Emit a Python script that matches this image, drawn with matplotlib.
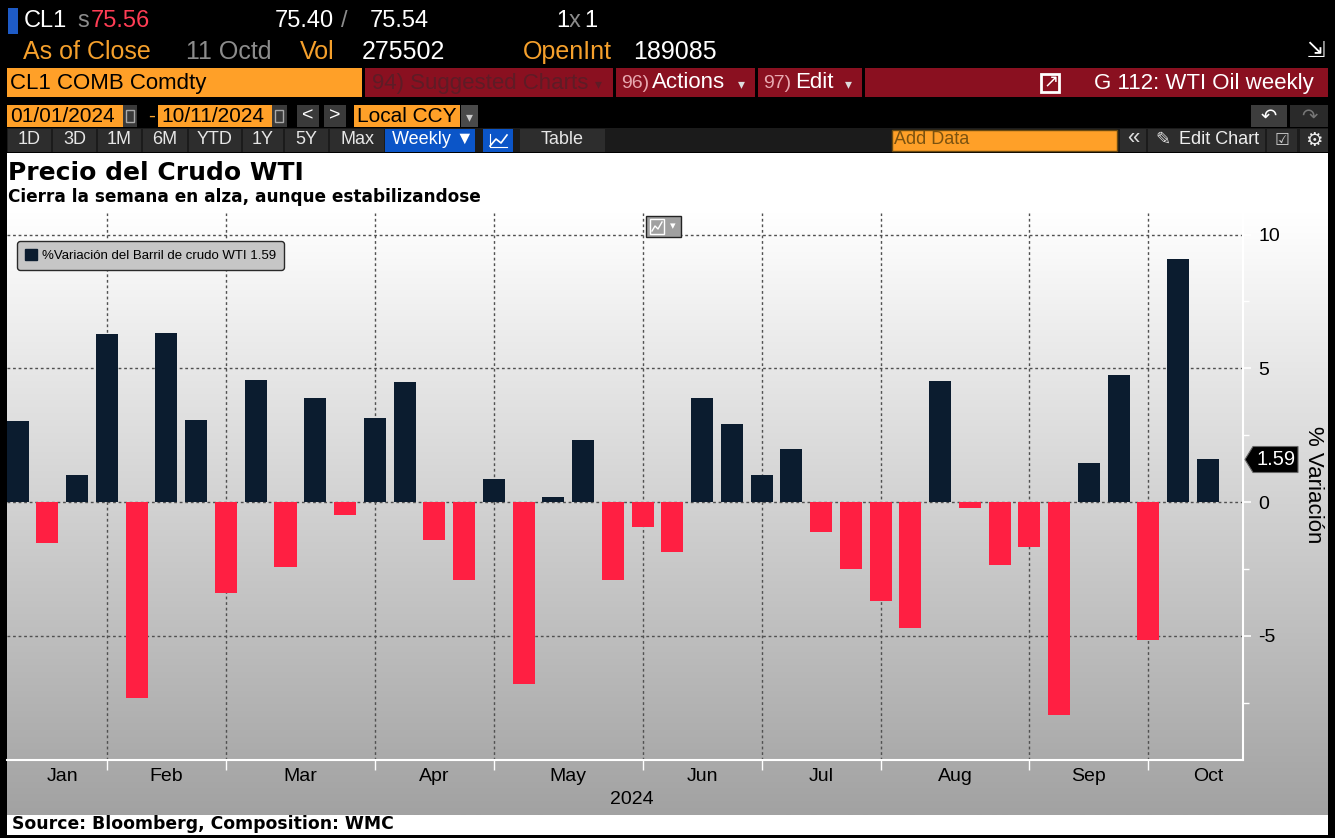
import numpy as np
import pandas as pd
import matplotlib
matplotlib.use("Agg")
import matplotlib.pyplot as plt
from matplotlib.patches import Rectangle, Polygon, Patch
from matplotlib.colors import LinearSegmentedColormap

plt.rcParams['font.family'] = ['Liberation Sans', 'DejaVu Sans']

# ---------------- data ----------------
week_dates = pd.date_range("2024-01-05", "2024-10-11", freq="W-FRI")
values = [3.03, -1.52, 1.01, 6.28, -7.32, 6.32, 3.07, -3.39, 4.56, -2.42,
          3.89, -0.47, 3.14, 4.49, -1.41, -2.91, 0.86, -6.80, 0.19, 2.32,
          -2.91, -0.92, -1.86, 3.89, 2.92, 1.01, 1.98, -1.11, -2.49, -3.69,
          -4.70, 4.53, -0.21, -2.34, -1.67, -7.96, 1.46, 4.75, -5.15, 9.09,
          1.59]
month_names = ["Jan", "Feb", "Mar", "Apr", "May", "Jun", "Jul", "Aug", "Sep", "Oct"]
year_label = "2024"
y_major = [-5, 0, 5, 10]
y_minor = [-7.5, -2.5, 2.5, 7.5]
series_name = "%Variación del Barril de crudo WTI"
title = "Precio del Crudo WTI"
subtitle = "Cierra la semana en alza, aunque estabilizandose"
source = "Source: Bloomberg, Composition: WMC"

# ---------------- colours ----------------
NAVY = "#0b1c2f"
RED_BAR = "#ff1f42"
ORANGE = "#ffa028"
ORANGE_TXT = "#f5a02c"
BBG_RED = "#8a1020"
GRAY_TXT = "#8c8c8c"

W, H = 1335, 838
fig = plt.figure(figsize=(W / 100, H / 100), dpi=100)
fig.patch.set_facecolor("black")

bg = fig.add_axes([0, 0, 1, 1], zorder=0)
bg.set_xlim(0, W); bg.set_ylim(H, 0); bg.axis("off")


def box(x0, y0, x1, y1, fc, ec="none", lw=0, ax=bg, z=1):
    ax.add_patch(Rectangle((x0, y0), x1 - x0, y1 - y0, facecolor=fc,
                           edgecolor=ec, linewidth=lw, zorder=z))


def txt(x, y, s, size, color, ha="left", va="center", weight="normal",
        family=None, ax=bg, z=3, **kw):
    if family is None:
        family = ['Liberation Sans', 'DejaVu Sans']
    ax.text(x, y, s, fontsize=size, color=color, ha=ha, va=va,
            fontweight=weight, family=family, zorder=z, **kw)


# ---------------- header rows ----------------
box(8, 8, 18, 34, "#1e5bc6")
txt(24, 21, "CL1", 17, "white")
txt(77, 21, "s", 17, GRAY_TXT)
txt(91, 21, "75.56", 17, "#ff3d55")
txt(275, 21, "75.40", 17, "white")
txt(341, 21, "/", 17, GRAY_TXT)
txt(370, 21, "75.54", 17, "white")
txt(556, 21, "1", 17, "white")
txt(569, 21, "x", 17, GRAY_TXT)
txt(584, 21, "1", 17, "white")

txt(23, 52, "As of Close", 18, ORANGE_TXT)
txt(186, 52, "11 Octd", 18, GRAY_TXT)
txt(300, 52, "Vol", 18, ORANGE_TXT)
txt(362, 52, "275502", 18, "white")
txt(523, 52, "OpenInt", 18, ORANGE_TXT)
txt(633, 52, "189085", 18, "white")
txt(1316, 51, "⇲", 16, "white", ha="center", family=["DejaVu Sans"])

# row 3
box(7, 68, 362, 97, ORANGE)
txt(10, 83, "CL1 COMB Comdty", 16, "black")
box(365, 68, 613, 97, BBG_RED)
txt(372, 83, "94) Suggested Charts", 16, "#5e1c26")
txt(598, 84, "▾", 10, "#5e1c26", ha="center")
box(616, 68, 755, 97, BBG_RED)
txt(621, 83, "96)", 14, "#e8a8b0")
txt(652, 83, "Actions", 16, "white")
txt(741, 84, "▾", 10, "#dddddd", ha="center")
box(758, 68, 862, 97, BBG_RED)
txt(763, 83, "97)", 14, "#e8a8b0")
txt(795, 83, "Edit", 16, "white")
txt(848, 84, "▾", 10, "#dddddd", ha="center")
box(865, 68, 1328, 97, BBG_RED)
box(1041, 74, 1059, 92, "none", ec="white", lw=2, z=2)
txt(1051, 82, "↗", 13, "white", ha="center", family=["DejaVu Sans"])
txt(1314, 83, "G 112: WTI Oil weekly", 16, "white", ha="right")

# row 4
box(7, 105, 123, 127, ORANGE)
txt(10, 116, "01/01/2024", 15, "black")
box(123, 105, 137, 127, "#3a3a3a")
box(126, 110, 134, 122, "none", ec="#aaaaaa", lw=1, z=2)
txt(148, 116, "-", 15, ORANGE_TXT)
box(158, 105, 272, 127, ORANGE)
txt(161, 116, "10/11/2024", 15, "black")
box(272, 105, 287, 127, "#3a3a3a")
box(275, 110, 283, 122, "none", ec="#aaaaaa", lw=1, z=2)
box(297, 105, 319, 127, "#3a3a3a")
txt(308, 116, "<", 14, "white", ha="center")
box(324, 105, 346, 127, "#3a3a3a")
txt(335, 116, ">", 14, "white", ha="center")
box(354, 105, 460, 127, ORANGE)
txt(357, 116, "Local CCY", 15, "black")
box(461, 105, 478, 127, "#4a4a4a")
txt(469.5, 117, "▾", 10, "#cccccc", ha="center")
box(1251, 105, 1287, 127, "#3d3d3d")
txt(1269, 116, "↶", 14, "white", ha="center", family=["DejaVu Sans"])
box(1290, 105, 1328, 127, "#2a2a2a")
txt(1309, 116, "↷", 14, "#777777", ha="center", family=["DejaVu Sans"])

# row 5
box(7, 128, 1328, 152, "#1b1b1b")
for x0, x1, lab in [(8, 51, "1D"), (53, 96, "3D"), (98, 141, "1M"), (143, 187, "6M"),
                    (189, 241, "YTD"), (243, 283, "1Y"), (285, 328, "5Y"), (330, 384, "Max")]:
    box(x0, 129, x1, 152, "#2d2d2d")
    txt((x0 + x1) / 2, 140, lab, 13, "#e6e6e6", ha="center")
box(385, 129, 475, 152, "#0b55c8")
txt(392, 140, "Weekly ▼", 13, "white")
box(483, 129, 513, 152, "#0b55c8")
bg.plot([490, 496, 501, 507], [146, 139, 143, 135], color="white", lw=1.2, zorder=3)
bg.plot([490, 490, 507], [134, 147, 147], color="white", lw=0.8, zorder=3)
box(520, 129, 605, 152, "#2d2d2d")
txt(562, 140, "Table", 13, "#e6e6e6", ha="center")
box(892, 130, 1117, 151, ORANGE, ec="#6b4a10", lw=1)
txt(894, 140, "Add Data", 13, "#7a5210")
box(1120, 129, 1146, 152, "#2d2d2d")
txt(1133, 139, "«", 16, "#dddddd", ha="center")
box(1148, 129, 1265, 152, "#2d2d2d")
txt(1155, 140, "✎", 13, "#dddddd", family=["DejaVu Sans"])
txt(1179, 140, "Edit Chart", 13, "#eeeeee")
box(1267, 129, 1297, 152, "#2d2d2d")
txt(1282, 140, "☑", 12, "#cccccc", ha="center", family=["DejaVu Sans"])
box(1300, 129, 1328, 152, "#2d2d2d")
txt(1314, 140, "⚙", 14, "#eeeeee", ha="center", family=["DejaVu Sans"])

# ---------------- chart panel background ----------------
box(7, 153, 1328, 835, "white", z=0)
grad = LinearSegmentedColormap.from_list("g", ["#ffffff", "#a2a2a2"])
bg.imshow(np.linspace(0, 1, 256)[:, None], extent=(7, 1328, 815, 213),
          cmap=grad, aspect="auto", zorder=0.5, origin="upper")
bg.set_xlim(0, W); bg.set_ylim(H, 0)

txt(8, 173, title, 18, "black", weight="bold", family=["DejaVu Sans"])
txt(8, 197, subtitle, 12.2, "black", weight="bold", family=["DejaVu Sans"])
txt(12, 824, source, 12.4, "black", weight="bold", family=["DejaVu Sans"])

# ---------------- plot axes ----------------
ax = fig.add_axes([7 / W, (H - 760) / H, 1236 / W, 547 / H], zorder=2)
ax.set_facecolor("none")
x = np.arange(len(values))
colors = [NAVY if v >= 0 else RED_BAR for v in values]
ax.bar(x, values, width=0.74, color=colors, zorder=3)
ax.set_xlim(-0.36, 41.18)
ax.set_ylim(-9.65, 10.81)

# month separators (last Friday of each month) and label positions
months = week_dates.month
seps = [i for i in range(len(week_dates) - 1) if months[i] != months[i + 1]]
bounds = [0] + seps + [len(values) + 1]
label_pos = [(bounds[i] + bounds[i + 1]) / 2 for i in range(len(bounds) - 1)]

ax.set_xticks(seps)
ax.set_xticklabels([])
ax.set_xticks(label_pos, minor=True)
ax.set_xticklabels(month_names, minor=True)
ax.tick_params(axis="x", which="major", length=7, width=1, color="white")
ax.tick_params(axis="x", which="minor", length=0, pad=6, labelsize=14, labelcolor="black")

ax.yaxis.tick_right()
ax.set_yticks(y_major)
ax.set_yticklabels([str(v) for v in y_major])
ax.set_yticks(y_minor, minor=True)
ax.tick_params(axis="y", which="major", length=6, width=1.2, color="white",
               labelcolor="black", labelsize=14, pad=5)
ax.tick_params(axis="y", which="minor", length=4, width=1, color="white")

for s in ["left", "top"]:
    ax.spines[s].set_visible(False)
for s in ["right", "bottom"]:
    ax.spines[s].set_color("white")
    ax.spines[s].set_linewidth(1.5)

ax.set_axisbelow(True)
ax.grid(True, which="major", color="#505050", linestyle=(0, (2, 2)), linewidth=1)

ax.yaxis.set_label_position("right")
ax.set_ylabel("% Variación", rotation=270, fontsize=16, color="black", ha="center", va="center")
ax.yaxis.set_label_coords((1313 - 7) / 1236, 0.503)

ax.set_xlabel(year_label, fontsize=14, color="black")
ax.xaxis.set_label_coords((632 - 7) / 1236, -0.057)

handles = [Patch(facecolor=NAVY, edgecolor=NAVY, label=f"{series_name} {values[-1]:.2f}")]
leg = ax.legend(handles=handles, loc="upper left",
                bbox_to_anchor=(10 / 1236, (760 - 241) / 547), borderaxespad=0,
                frameon=True, fancybox=True, facecolor="#c6c6c6", edgecolor="#2a2a2a",
                framealpha=1, fontsize=9.5, handlelength=0.9, handleheight=0.9,
                handletextpad=0.4, borderpad=0.6)
leg.get_frame().set_linewidth(1)

# ---------------- overlay: last value tag and chart icon ----------------
ov = fig.add_axes([0, 0, 1, 1], zorder=5)
ov.set_xlim(0, W); ov.set_ylim(H, 0); ov.axis("off"); ov.set_facecolor("none")

fig.canvas.draw()
y_disp = ax.transData.transform((0, values[-1]))[1]
yt = H - y_disp
ov.add_patch(Polygon([(1245, yt), (1253, yt - 13), (1298, yt - 13), (1298, yt + 13), (1253, yt + 13)],
                     closed=True, facecolor="black", edgecolor="#666666", lw=0.8, zorder=4))
txt(1276, yt + 0.5, f"{values[-1]:.2f}", 14.5, "white", ha="center", ax=ov, z=5)

box(646, 216, 681, 237, "#a0a0a0", ec="#222222", lw=1, ax=ov, z=4)
box(650, 219, 664, 234, "#a0a0a0", ec="white", lw=1, ax=ov, z=5)
ov.plot([652, 655, 658, 662], [231, 226, 229, 222], color="white", lw=1, zorder=6)
txt(673, 226, "▾", 8, "white", ha="center", ax=ov, z=6)

fig.savefig("out.png", dpi=100, facecolor=fig.get_facecolor())
